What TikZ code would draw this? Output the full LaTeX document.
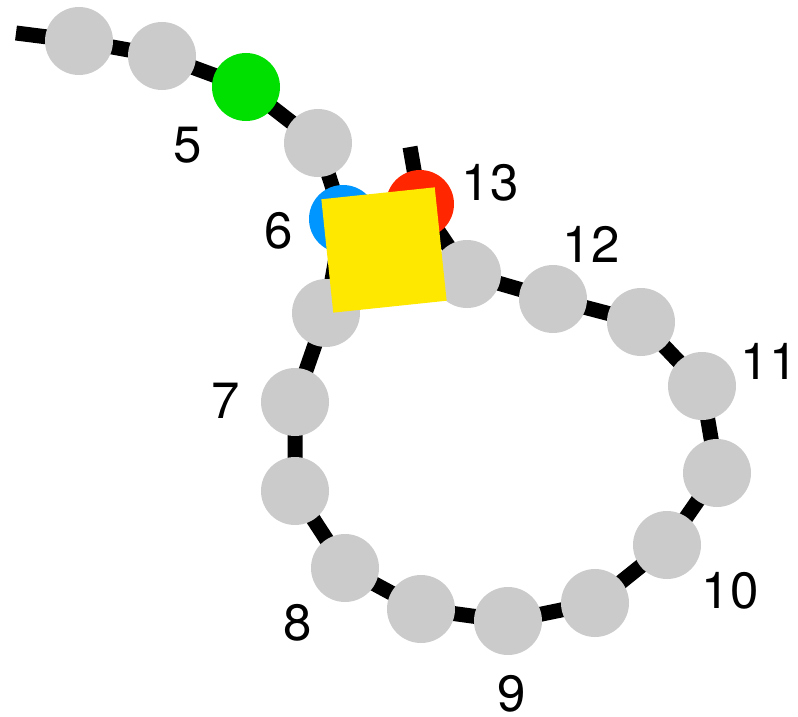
\documentclass[tikz,border=0pt]{standalone}
\usepackage{fontspec}
\setmainfont{TeX Gyre Heros}
\usetikzlibrary{backgrounds}
\definecolor{beadgray}{HTML}{CBCBCB}
\definecolor{beadgreen}{HTML}{00E000}
\definecolor{beadblue}{HTML}{0096FF}
\definecolor{beadred}{HTML}{FF2600}
\definecolor{sitegold}{HTML}{FFE800}
\begin{document}
\begin{tikzpicture}[x=1pt, y=-1pt, font=\fontsize{51}{60}\selectfont, line join=round]
	\tikzset{
	bead/.style={circle, fill=beadgray, minimum size=68pt, inner sep=0pt},
	lbl/.style={inner sep=0pt},
	backbone/.style={black, line width=15pt}
	}
	\useasboundingbox (0,0) rectangle (798,717);
	\foreach \n/\x/\y/\c in {1/79/41/beadgray, 2/162/56/beadgray, 3/246/87/beadgreen,
		4/318/143/beadgray, 5/343/219/beadblue, 6/326/313/beadgray, 7/295/402/beadgray,
		8/295/491/beadgray, 9/345/568/beadgray, 10/421/609/beadgray, 11/508/621/beadgray,
		12/595/603/beadgray, 13/667/545/beadgray, 14/717/473/beadgray, 15/702/386/beadgray,
		16/641/322/beadgray, 17/553/299/beadgray, 18/467/274/beadgray, 19/420/204/beadred}{
	\node[bead, fill=\c] (b\n) at (\x,\y) {};
	}
	\coordinate (start) at (16,33);
	\coordinate (tail) at (410,147);
	\begin{scope}[on background layer]
	\draw[backbone] (start) -- (b1.center) \foreach \n in {2,...,19}{ -- (b\n.center)} -- (tail);
	\end{scope}
	\node[fill=sitegold, minimum size=114pt, inner sep=0pt, rotate=6] (site) at (384,250) {};
	\foreach \t/\x/\y in {5/188/145, 6/279/231, 7/226/401, 8/298/623, 9/512/694,
		10/730/591, 11/769/361, 12/591/244, 13/490/183}{
	\node[lbl] (l\t) at (\x,\y) {\t};
	}
\end{tikzpicture}
\end{document}
